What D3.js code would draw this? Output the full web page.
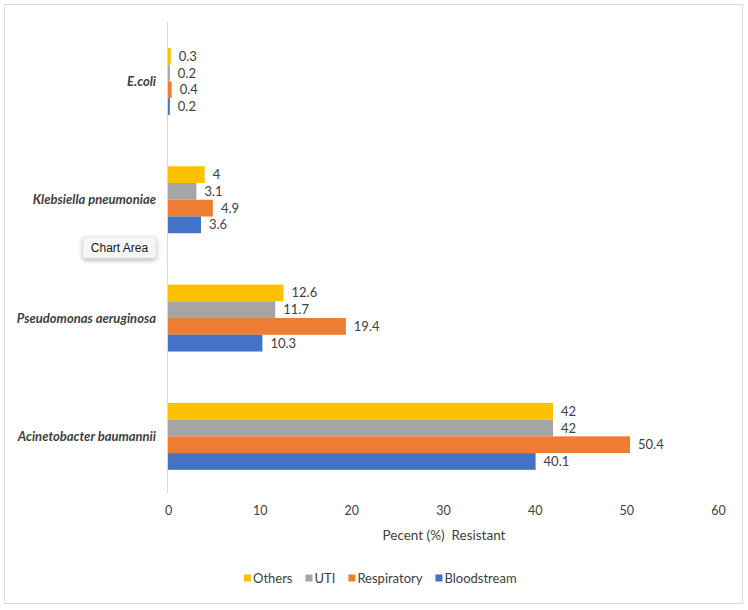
<!DOCTYPE html>
<html><head><meta charset="utf-8">
<script src="https://cdn.jsdelivr.net/npm/d3@7"></script>
<style>body{margin:0;background:#fff}svg{display:block}</style>
</head><body>
<svg id="c" width="748" height="610"></svg>
<script>
const categories = ["E.coli", "Klebsiella pneumoniae", "Pseudomonas aeruginosa", "Acinetobacter baumannii"];
const seriesNames = ["Others", "UTI", "Respiratory", "Bloodstream"];
const seriesColors = ["#FFC000", "#A5A5A5", "#ED7D31", "#4472C4"];
const others      = [0.3, 4, 12.6, 42];
const uti         = [0.2, 3.1, 11.7, 42];
const respiratory = [0.4, 4.9, 19.4, 50.4];
const bloodstream = [0.2, 3.6, 10.3, 40.1];
const xTicks = [0, 10, 20, 30, 40, 50, 60];
const xTitle = "Pecent (%)  Resistant";

const values = [others, uti, respiratory, bloodstream];
const svg = d3.select("#c");
const font = "Lato, 'Open Sans', sans-serif";

svg.append("rect").attr("x", 4.5).attr("y", 4.5).attr("width", 738).attr("height", 599)
  .attr("fill", "#fff").attr("stroke", "#d9d9d9");

const x = d3.scaleLinear().domain([0, 60]).range([168, 718]);
const y = d3.scaleBand().domain(categories).range([22.3, 495.5]).paddingInner(0.434).paddingOuter(0.217);
const ys = d3.scaleBand().domain(seriesNames).range([0, y.bandwidth()]);

// vertical axis line
svg.append("line").attr("x1", x(0) - 0.5).attr("x2", x(0) - 0.5)
  .attr("y1", 22).attr("y2", 493).attr("stroke", "#d9d9d9").attr("stroke-width", 1);

// bars
const data = [];
categories.forEach((c, i) => seriesNames.forEach((s, j) => data.push({c, s, v: values[j][i], col: seriesColors[j]})));

svg.append("g").selectAll("rect").data(data).join("rect")
  .attr("x", x(0))
  .attr("y", d => y(d.c) + ys(d.s))
  .attr("width", d => x(d.v) - x(0))
  .attr("height", ys.bandwidth())
  .attr("fill", d => d.col);

svg.append("g").selectAll("text").data(data).join("text")
  .attr("x", d => x(d.v) + 8)
  .attr("y", d => y(d.c) + ys(d.s) + ys.bandwidth() / 2)
  .attr("dy", "0.35em")
  .attr("font-family", font).attr("font-size", 13).attr("fill", "#404040")
  .text(d => d.v);

// category labels
svg.append("g").selectAll("text").data(categories).join("text")
  .attr("x", 156)
  .attr("y", d => y(d) + y.bandwidth() / 2)
  .attr("dy", "0.35em")
  .attr("text-anchor", "end")
  .attr("font-family", font).attr("font-size", 13).attr("font-weight", "bold").attr("font-style", "italic")
  .attr("fill", "#404040")
  .text(d => d);

// x axis
const xAxis = d3.axisBottom(x).tickValues(xTicks).tickSize(0).tickPadding(0);
const gx = svg.append("g").attr("transform", "translate(0,506)").call(xAxis);
gx.select(".domain").remove();
gx.selectAll("text").attr("font-family", font).attr("font-size", 12.5).attr("fill", "#404040").attr("dy", "0.71em");

svg.append("text").attr("x", 444).attr("y", 535).attr("dy", "0.35em")
  .attr("text-anchor", "middle").style("white-space", "pre")
  .attr("font-family", font).attr("font-size", 13.5).attr("fill", "#404040")
  .text(xTitle);

// legend
const lg = svg.append("g");
let lx = 244;
seriesNames.forEach((s, j) => {
  lg.append("rect").attr("x", lx).attr("y", 574.5).attr("width", 7).attr("height", 7).attr("fill", seriesColors[j]);
  const t = lg.append("text").attr("x", lx + 9).attr("y", 578).attr("dy", "0.35em")
    .attr("font-family", font).attr("font-size", 13).attr("fill", "#404040").text(s);
  lx += 9 + t.node().getComputedTextLength() + 13;
});

// "Chart Area" tooltip
const defs = svg.append("defs");
const f = defs.append("filter").attr("id", "sh").attr("x", "-30%").attr("y", "-50%").attr("width", "160%").attr("height", "220%");
f.append("feDropShadow").attr("dx", 0).attr("dy", 2).attr("stdDeviation", 2.5).attr("flood-color", "#000").attr("flood-opacity", 0.3);
svg.append("rect").attr("x", 83).attr("y", 237).attr("width", 73).attr("height", 21).attr("rx", 2)
  .attr("fill", "#f6f6f6").attr("stroke", "#d0d0d0").attr("stroke-width", 0.5).attr("filter", "url(#sh)");
svg.append("text").attr("x", 119.5).attr("y", 248).attr("dy", "0.35em").attr("text-anchor", "middle")
  .attr("font-family", "'Liberation Sans', Arial, sans-serif").attr("font-size", 12).attr("fill", "#1a1a1a")
  .text("Chart Area");
</script>
</body></html>
